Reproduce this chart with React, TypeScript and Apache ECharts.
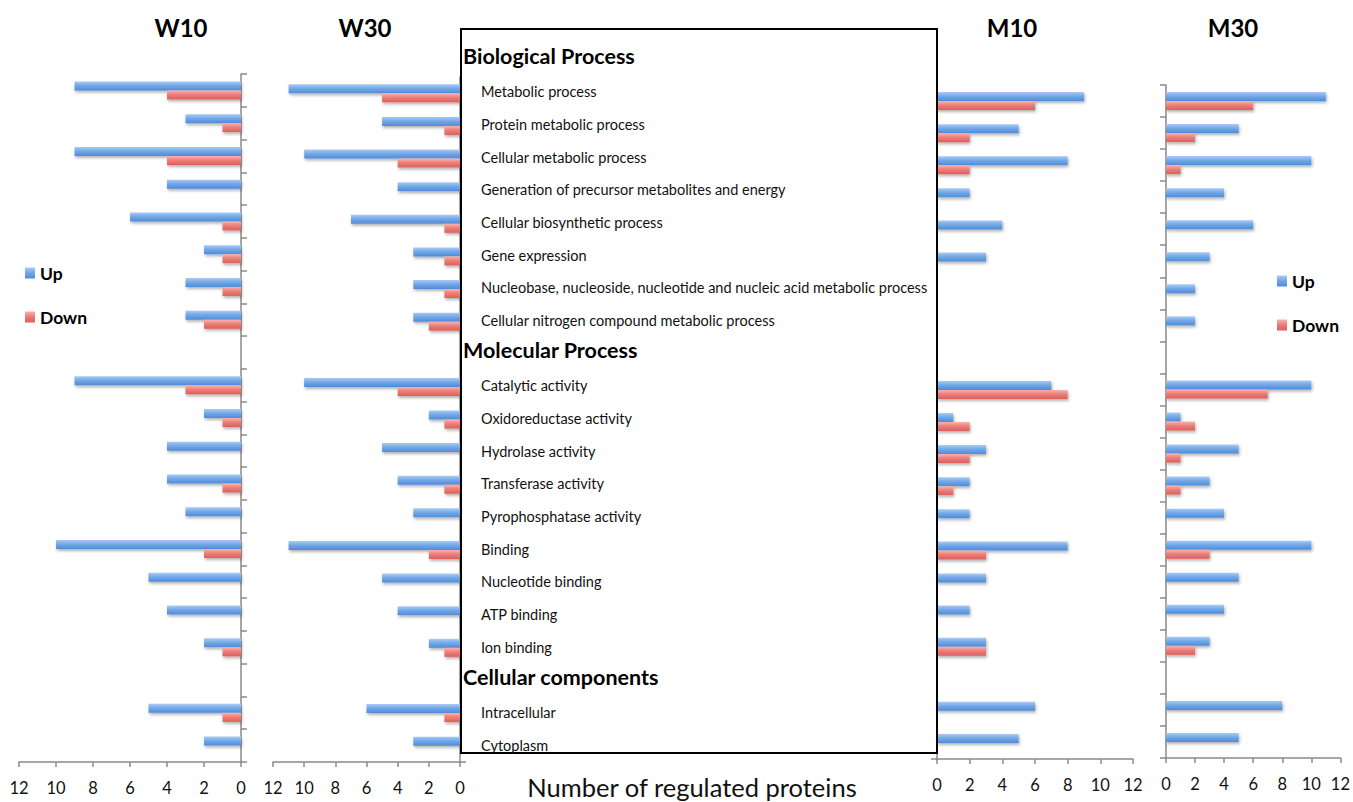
import React, { useEffect, useRef } from "react";
import * as echarts from "echarts";

const topHeader = "Biological Process";
const categories = [
  "Metabolic process",
  "Protein metabolic process",
  "Cellular metabolic process",
  "Generation of precursor metabolites and energy",
  "Cellular biosynthetic process",
  "Gene expression",
  "Nucleobase, nucleoside, nucleotide and nucleic acid metabolic process",
  "Cellular nitrogen compound metabolic process",
  "Molecular Process",
  "Catalytic activity",
  "Oxidoreductase activity",
  "Hydrolase activity",
  "Transferase activity",
  "Pyrophosphatase activity",
  "Binding",
  "Nucleotide binding",
  "ATP binding",
  "Ion binding",
  "Cellular components",
  "Intracellular",
  "Cytoplasm",
];
const headers = [topHeader, "Molecular Process", "Cellular components"];

const w10Up = [9, 3, 9, 4, 6, 2, 3, 3, 0, 9, 2, 4, 4, 3, 10, 5, 4, 2, 0, 5, 2];
const w10Down = [4, 1, 4, 0, 1, 1, 1, 2, 0, 3, 1, 0, 1, 0, 2, 0, 0, 1, 0, 1, 0];
const w30Up = [11, 5, 10, 4, 7, 3, 3, 3, 0, 10, 2, 5, 4, 3, 11, 5, 4, 2, 0, 6, 3];
const w30Down = [5, 1, 4, 0, 1, 1, 1, 2, 0, 4, 1, 0, 1, 0, 2, 0, 0, 1, 0, 1, 0];
const m10Up = [9, 5, 8, 2, 4, 3, 0, 0, 0, 7, 1, 3, 2, 2, 8, 3, 2, 3, 0, 6, 5];
const m10Down = [6, 2, 2, 0, 0, 0, 0, 0, 0, 8, 2, 2, 1, 0, 3, 0, 0, 3, 0, 0, 0];
const m30Up = [11, 5, 10, 4, 6, 3, 2, 2, 0, 10, 1, 5, 3, 4, 10, 5, 4, 3, 0, 8, 5];
const m30Down = [6, 2, 1, 0, 0, 0, 0, 0, 0, 7, 2, 1, 1, 0, 3, 0, 0, 2, 0, 0, 0];

const panelTitles = ["W10", "W30", "M10", "M30"];
const xTicksMax = 12;
const xTickStep = 2;
const xAxisTitle = "Number of regulated proteins";

const FONT = "Lato, 'Open Sans', sans-serif";
const AXIS_GRAY = "#8a8a8a";

export default function App() {
  const ref = useRef<HTMLDivElement>(null);

  useEffect(() => {
    if (!ref.current) return;
    const chart = echarts.init(ref.current, undefined, { renderer: "svg" });

    const blue = new echarts.graphic.LinearGradient(0, 0, 0, 1, [
      { offset: 0, color: "#a9cbf3" },
      { offset: 0.45, color: "#74a9e8" },
      { offset: 1, color: "#4f8bd8" },
    ]);
    const red = new echarts.graphic.LinearGradient(0, 0, 0, 1, [
      { offset: 0, color: "#f8b3b0" },
      { offset: 0.45, color: "#ee7f7b" },
      { offset: 1, color: "#d9605b" },
    ]);

    const grids = [
      { left: 19, top: 74, width: 222, height: 688 },
      { left: 273, top: 77, width: 187, height: 685 },
      { left: 937, top: 85, width: 196, height: 674 },
      { left: 1166, top: 85, width: 176, height: 673 },
      { left: 463, top: 42.7, width: 470, height: 718.7 },
    ];

    const xAxes: any[] = [0, 1, 2, 3].map((i) => ({
      type: "value",
      gridIndex: i,
      min: 0,
      max: xTicksMax,
      interval: xTickStep,
      inverse: i < 2,
      position: "bottom",
      splitLine: { show: false },
      axisLine: { show: true, lineStyle: { color: AXIS_GRAY, width: 1.5 } },
      axisTick: { show: true, length: 5, lineStyle: { color: AXIS_GRAY, width: 1.5 } },
      axisLabel: { color: "#111", fontSize: 16.5, fontFamily: FONT, margin: 17 },
    }));
    xAxes.push({ type: "value", gridIndex: 4, show: false, min: 0, max: 1 });

    const yAxes: any[] = [0, 1, 2, 3].map((i) => ({
      type: "category",
      gridIndex: i,
      data: categories,
      inverse: true,
      position: i < 2 ? "right" : "left",
      axisLine: { show: true, lineStyle: { color: AXIS_GRAY, width: 1.5 } },
      axisTick: { show: true, length: 6, lineStyle: { color: AXIS_GRAY, width: 1.5 } },
      axisLabel: { show: false },
      z: 0,
    }));
    yAxes.push({
      type: "category",
      gridIndex: 4,
      data: [topHeader, ...categories],
      inverse: true,
      position: "left",
      axisLine: { show: false },
      axisTick: { show: false },
      z: 60,
      axisLabel: {
        show: true,
        inside: true,
        interval: 0,
        margin: 0,
        formatter: (v: string) => (headers.includes(v) ? `{h|${v}}` : `{i|${v}}`),
        rich: {
          h: {
            fontSize: 21.5,
            fontWeight: "bold",
            fontFamily: FONT,
            color: "#000",
            padding: [0, 0, 6, 0],
          },
          i: {
            fontSize: 14.5,
            fontFamily: FONT,
            color: "#111",
            padding: [0, 0, 0, 18],
          },
        },
      },
    });

    const panels = [
      [w10Up, w10Down],
      [w30Up, w30Down],
      [m10Up, m10Down],
      [m30Up, m30Down],
    ];
    const series: any[] = [];
    panels.forEach(([up, down], i) => {
      [
        ["Up", up, blue],
        ["Down", down, red],
      ].forEach(([name, data, color]: any) => {
        series.push({
          type: "bar",
          name,
          xAxisIndex: i,
          yAxisIndex: i,
          data,
          barWidth: 9,
          barGap: "0%",
          itemStyle: {
            color,
            shadowBlur: 3,
            shadowOffsetX: 1,
            shadowOffsetY: 2,
            shadowColor: "rgba(0,0,0,0.3)",
          },
        });
      });
    });

    const titleCenters = [181, 365, 1012, 1233];
    const graphic: any[] = [
      {
        type: "rect",
        shape: { x: 461, y: 29, width: 476, height: 724 },
        style: { fill: "#fff", stroke: "#000", lineWidth: 2 },
        z: 50,
      },
      ...panelTitles.map((t, i) => ({
        type: "text",
        x: titleCenters[i],
        y: 27,
        z: 60,
        style: {
          text: t,
          fontSize: 24,
          fontWeight: "bold",
          fontFamily: FONT,
          fill: "#000",
          align: "center",
          verticalAlign: "middle",
        },
      })),
      {
        type: "text",
        x: 692,
        y: 787,
        z: 60,
        style: {
          text: xAxisTitle,
          fontSize: 25.5,
          fontFamily: FONT,
          fill: "#111",
          align: "center",
          verticalAlign: "middle",
        },
      },
    ];

    const legendBase = {
      orient: "vertical",
      data: ["Up", "Down"],
      icon: "rect",
      itemWidth: 10,
      itemHeight: 11,
      itemGap: 24,
      padding: 0,
      selectedMode: false,
      textStyle: { fontFamily: FONT, fontWeight: "bold", fontSize: 17.5, color: "#000", lineHeight: 20 },
    };

    chart.setOption({
      animation: false,
      backgroundColor: "#fff",
      grid: grids.map((g) => ({ ...g, containLabel: false })),
      xAxis: xAxes,
      yAxis: yAxes,
      series,
      legend: [
        { ...legendBase, left: 25, top: 263 },
        { ...legendBase, left: 1277, top: 271 },
      ],
      graphic,
    });

    return () => chart.dispose();
  }, []);

  return (
    <div
      ref={ref}
      style={{ position: "absolute", left: 0, top: 0, width: 1353, height: 802 }}
    />
  );
}
